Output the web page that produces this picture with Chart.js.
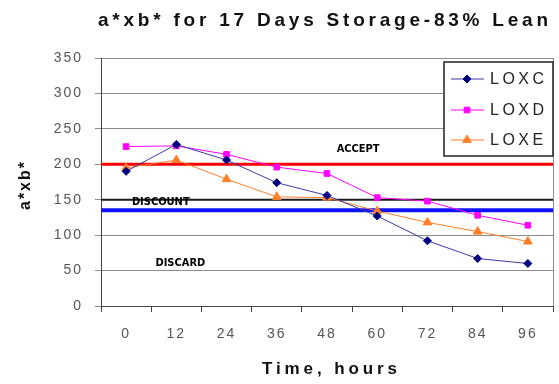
<!DOCTYPE html>
<html>
<head>
<meta charset="utf-8">
<script src="https://cdn.jsdelivr.net/npm/chart.js@4/dist/chart.umd.min.js"></script>
<style>
html,body{margin:0;padding:0;background:#fff;}
canvas{display:block;}
</style>
</head>
<body>
<canvas id="c" width="559" height="384"></canvas>
<script>
// ---- data ----
const titleText = 'a*xb* for 17 Days Storage-83% Lean';
const xTitle = 'Time, hours';
const yTitle = 'a*xb*';
const categories = ['0', '12', '24', '36', '48', '60', '72', '84', '96'];
const seriesNames = ['LOXC', 'LOXD', 'LOXE'];
const loxc = [190, 228, 206, 174, 156, 127, 92, 67, 60];
const loxd = [225, 226, 214, 196, 187, 153, 148, 128, 114];
const loxe = [195, 206, 179, 154, 153, 134, 118, 105, 91];
const yTickValues = [0, 50, 100, 150, 200, 250, 300, 350];
const thresholdValues = [200, 150, 135];
const zoneLabels = ['ACCEPT', 'DISCOUNT', 'DISCARD'];
const zoneLabelIndex = [4.62, 0.69, 1.08];
const zoneLabelValue = [221, 146, 61];

// ---- styles ----
const seriesColors = ['#3a3aa6', '#ff00ff', '#ff7f2a'];
const pointColors = ['#000080', '#ff00ff', '#ff7f2a'];
const pointStyles = ['rectRot', 'rect', 'triangle'];
const pointRadii = [4, 4, 5];
const thresholdColors = ['#ff0000', '#1a1a1a', '#1010ff'];
const thresholdWidths = [3, 2, 4];
const FONT = "'Liberation Sans', Arial, sans-serif";

const overlay = {
  id: 'overlay',
  beforeDraw(chart) {
    chart.ctx.letterSpacing = '2px';
  },
  beforeDatasetsDraw(chart) {
    const ctx = chart.ctx, a = chart.chartArea, y = chart.scales.y;
    ctx.save();
    ctx.letterSpacing = '0px';
    ctx.strokeStyle = '#8c8c8c'; ctx.lineWidth = 1;
    ctx.beginPath(); ctx.moveTo(a.right + 0.5, a.top); ctx.lineTo(a.right + 0.5, a.bottom); ctx.stroke();
    thresholdValues.forEach((v, i) => {
      const py = y.getPixelForValue(v);
      ctx.strokeStyle = thresholdColors[i]; ctx.lineWidth = thresholdWidths[i];
      ctx.beginPath(); ctx.moveTo(a.left, py); ctx.lineTo(a.right, py); ctx.stroke();
    });
    ctx.fillStyle = '#000';
    ctx.font = "bold 11px 'Liberation Sans Narrow', 'DejaVu Sans Condensed', sans-serif";
    ctx.textAlign = 'center'; ctx.textBaseline = 'middle';
    zoneLabels.forEach((t, i) => {
      ctx.fillText(t, chart.scales.x.getPixelForValue(zoneLabelIndex[i]), y.getPixelForValue(zoneLabelValue[i]));
    });
    ctx.restore();
  },
  afterDraw(chart) {
    const ctx = chart.ctx;
    ctx.save();
    ctx.letterSpacing = '0px';
    ctx.fillStyle = '#111';
    ctx.font = 'bold 19px ' + FONT;
    ctx.textBaseline = 'middle'; ctx.textAlign = 'left';
    let w = ctx.measureText(titleText).width;
    let ls = (450 - w) / (titleText.length - 1);
    ctx.letterSpacing = ls + 'px';
    ctx.fillText(titleText, 98, 21);
    ctx.font = 'bold 17px ' + FONT;
    ctx.letterSpacing = '0px';
    w = ctx.measureText(xTitle).width;
    ls = (135 - w) / (xTitle.length - 1);
    ctx.letterSpacing = ls + 'px';
    ctx.fillText(xTitle, 262, 369);
    ctx.font = 'bold 16px ' + FONT;
    ctx.letterSpacing = '2px';
    ctx.translate(26, 185);
    ctx.rotate(-Math.PI / 2);
    ctx.textAlign = 'center';
    ctx.fillText(yTitle, 0, 0);
    ctx.setTransform(1, 0, 0, 1, 0, 0);
    // legend
    const lx = 444, ly = 62, lw = 109, lh = 94;
    ctx.letterSpacing = '0px';
    ctx.fillStyle = '#fff';
    ctx.fillRect(lx, ly, lw, lh);
    ctx.strokeStyle = '#222'; ctx.lineWidth = 1.5;
    ctx.strokeRect(lx, ly, lw, lh);
    const rows = [79, 110, 140];
    ctx.font = '16px ' + FONT;
    ctx.textAlign = 'left'; ctx.textBaseline = 'middle';
    seriesNames.forEach((n, i) => {
      const ry = rows[i];
      ctx.strokeStyle = seriesColors[i]; ctx.lineWidth = 1;
      ctx.beginPath(); ctx.moveTo(451, ry); ctx.lineTo(484, ry); ctx.stroke();
      ctx.fillStyle = pointColors[i]; ctx.strokeStyle = pointColors[i];
      Chart.helpers.drawPoint(ctx, {pointStyle: pointStyles[i], radius: pointRadii[i], rotation: 0, borderWidth: 1}, 467, ry);
      ctx.fillStyle = '#222';
      ctx.letterSpacing = '3.5px';
      ctx.fillText(n, 490, ry + 1);
      ctx.letterSpacing = '0px';
    });
    ctx.restore();
    chart.ctx.letterSpacing = '0px';
  }
};

const datasets = [loxc, loxd, loxe].map((d, i) => ({
  label: seriesNames[i],
  data: d,
  borderColor: seriesColors[i],
  backgroundColor: pointColors[i],
  pointBackgroundColor: pointColors[i],
  pointBorderColor: pointColors[i],
  pointStyle: pointStyles[i],
  pointRadius: pointRadii[i],
  borderWidth: 1,
  tension: 0,
  fill: false
}));

new Chart(document.getElementById('c'), {
  type: 'line',
  data: { labels: categories, datasets },
  options: {
    responsive: false,
    animation: false,
    events: [],
    layout: { padding: { top: 58, right: 4, left: 0, bottom: 0 } },
    plugins: { legend: { display: false }, title: { display: false }, tooltip: { enabled: false } },
    scales: {
      x: {
        type: 'category',
        offset: true,
        grid: { offset: true, drawOnChartArea: false, drawTicks: true, tickLength: 6, color: '#444' },
        border: { display: true, color: '#444', width: 1 },
        ticks: { color: '#555', font: { family: FONT, size: 14 }, padding: 14, maxRotation: 0, autoSkip: false },
        afterFit(s) { s.height = 78; }
      },
      y: {
        min: 0, max: 350,
        afterBuildTicks(s) { s.ticks = yTickValues.map(v => ({ value: v })); },
        grid: { color: '#8c8c8c', lineWidth: 1, tickLength: 6, drawTicks: true },
        border: { display: true, color: '#444', width: 1 },
        ticks: { color: '#555', font: { family: FONT, size: 14 }, padding: 12 },
        afterFit(s) { s.width = 101; }
      }
    }
  },
  plugins: [overlay]
});
</script>
</body>
</html>
